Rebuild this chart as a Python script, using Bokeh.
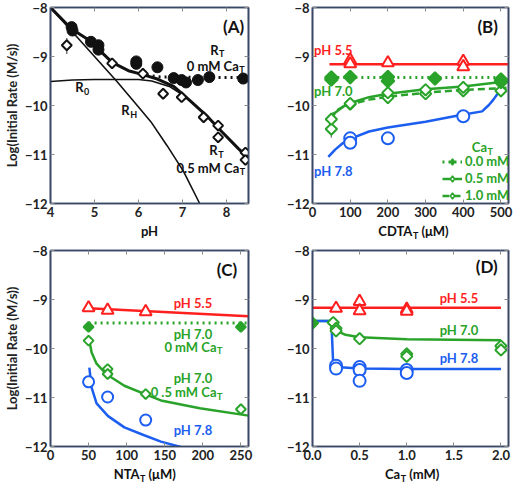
import numpy as np
from bokeh.plotting import figure
from bokeh.layouts import column, row
from bokeh.models import (Range1d, Label, Legend, LegendItem, LinearAxis, FixedTicker,
                          NumeralTickFormatter, CustomJSTickFormatter)
from bokeh.embed import file_html
from bokeh.resources import INLINE

FONT = "Lato"
RED, GREEN, BLUE, INK = "#ff1f1f", "#29a329", "#1c5ef0", "#111111"
AX = "#3a4766"
TICK = "#8a8a8a"

# ---------------- data ----------------
y_ticks = [-12, -11, -10, -9, -8]

# Panel A
a_ticks = [4, 5, 6, 7, 8]
a_ca0_ph = [4.48, 4.50, 4.92, 5.09, 5.09, 5.95, 5.95, 6.43, 6.80, 6.98, 7.08, 7.35, 7.61, 8.38]
a_ca0_log = [-8.40, -8.47, -8.70, -8.77, -8.86, -9.10, -9.15, -9.22, -9.44, -9.48, -9.53, -9.48, -9.42, -9.45]
a_ca05_ph = [4.37, 5.40, 6.10, 6.56, 6.98, 7.48, 7.81, 7.81, 8.43, 8.43]
a_ca05_log = [-8.77, -9.14, -9.35, -9.76, -9.83, -10.24, -10.41, -10.65, -10.96, -11.11]
a_fit05_ph = [4.0, 4.48, 4.88, 5.40, 5.77, 6.06, 6.43, 6.80, 7.17, 7.54, 7.90, 8.27, 8.55]
a_fit05_log = [-8.0, -8.44, -8.67, -9.12, -9.29, -9.36, -9.46, -9.61, -9.90, -10.20, -10.54, -10.88, -11.12]
a_fit0_ph = [6.05, 6.5, 8.5]
a_fit0_log = [-9.37, -9.42, -9.43]
a_r0_ph = [4.0, 4.5, 5.0, 5.5, 6.0, 6.3, 6.7, 7.0]
a_r0_log = [-9.51, -9.48, -9.47, -9.47, -9.47, -9.50, -9.61, -9.78]
a_rh_ph = [4.0, 4.5, 5.0, 5.5, 6.0, 6.28, 6.65, 7.02, 7.39]
a_rh_log = [-8.0, -8.5, -9.0, -9.5, -10.03, -10.33, -10.82, -11.34, -12.0]
a_err_ph = [4.37]
a_err_lo = [-8.95]
a_err_hi = [-8.62]

# Panel B
b_ticks = [0, 100, 200, 300, 400, 500]
b_ph55_x = [100, 100, 200, 400, 400]
b_ph55_y = [-9.07, -9.15, -9.13, -9.10, -9.21]
b_ph55_fit_x = [45, 520]
b_ph55_fit_y = [-9.16, -9.16]
b_ca0_x = [50, 50, 100, 200, 200, 325, 500, 500]
b_ca0_y = [-9.43, -9.47, -9.42, -9.42, -9.50, -9.45, -9.47, -9.52]
b_ca0_fit_x = [50, 500]
b_ca0_fit_y = [-9.43, -9.43]
b_ca05_x = [50, 100, 200, 300, 400, 500]
b_ca05_y = [-10.28, -9.96, -9.74, -9.68, -9.63, -9.50]
b_ca05_fit_x = [45, 60, 80, 100, 150, 200, 300, 400, 500, 515]
b_ca05_fit_y = [-10.32, -10.15, -10.03, -9.95, -9.83, -9.76, -9.67, -9.61, -9.52, -9.49]
b_ca10_x = [50, 100, 200, 300, 400, 500]
b_ca10_y = [-10.48, -9.97, -9.84, -9.76, -9.70, -9.70]
b_ca10_fit_x = [45, 60, 80, 100, 150, 200, 300, 400, 500, 515]
b_ca10_fit_y = [-10.25, -10.12, -10.03, -9.98, -9.88, -9.82, -9.74, -9.68, -9.65, -9.64]
b_ph78_x = [100, 100, 200, 400]
b_ph78_y = [-10.67, -10.76, -10.67, -10.22]
b_ph78_fit_x = [42, 60, 80, 100, 150, 200, 300, 390, 450, 468, 481, 491]
b_ph78_fit_y = [-11.05, -10.90, -10.77, -10.68, -10.53, -10.45, -10.33, -10.20, -10.12, -9.99, -9.87, -9.76]
b_err_x = [50]
b_err_lo = [-10.66]
b_err_hi = [-10.35]
b_legend_labels = ["0.0 mM", "0.5 mM", "1.0 mM"]

# Panel C
c_ticks = [0, 50, 100, 150, 200, 250]
c_ph55_x = [50, 75, 125]
c_ph55_y = [-9.17, -9.22, -9.25]
c_ph55_fit_x = [50, 260]
c_ph55_fit_y = [-9.18, -9.34]
c_ca0_x = [50, 250]
c_ca0_y = [-9.56, -9.56]
c_ca0_fit_x = [50, 260]
c_ca0_fit_y = [-9.48, -9.48]
c_ca05_x = [50, 75, 75, 125, 250]
c_ca05_y = [-9.84, -10.42, -10.52, -10.93, -11.24]
c_ca05_fit_x = [51, 54, 60.5, 73, 97, 124, 145, 196, 260]
c_ca05_fit_y = [-9.84, -10.08, -10.31, -10.52, -10.76, -10.93, -11.06, -11.22, -11.37]
c_ph78_x = [50, 75, 125]
c_ph78_y = [-10.68, -10.99, -11.46]
c_ph78_fit_x = [51, 54, 60.5, 75.6, 97, 123, 145, 171]
c_ph78_fit_y = [-10.39, -10.80, -11.12, -11.38, -11.61, -11.77, -11.90, -12.01]

# Panel D
d_ticks = [0.0, 0.5, 1.0, 1.5, 2.0]
d_ph55_x = [0.25, 0.5, 0.5, 1.0, 1.0]
d_ph55_y = [-9.18, -9.04, -9.23, -9.20, -9.24]
d_ph55_fit_x = [0.0, 2.0]
d_ph55_fit_y = [-9.17, -9.17]
d_ca0_x = [0.0]
d_ca0_y = [-9.48]
d_ph70_x = [0.22, 0.25, 0.25, 0.5, 1.0, 1.0, 2.0, 2.0]
d_ph70_y = [-9.47, -9.59, -9.64, -9.80, -10.11, -10.16, -9.95, -10.03]
d_ph70_fit_x = [0.0, 0.2, 0.22, 0.26, 0.35, 0.5, 1.0, 2.0]
d_ph70_fit_y = [-9.44, -9.44, -9.50, -9.64, -9.72, -9.77, -9.81, -9.83]
d_ph78_x = [0.25, 0.25, 0.5, 0.5, 0.5, 1.0, 1.0]
d_ph78_y = [-10.35, -10.41, -10.38, -10.44, -10.66, -10.44, -10.50]
d_ph78_fit_x = [0.0, 0.2, 0.22, 0.25, 0.5, 1.0, 2.0]
d_ph78_fit_y = [-9.44, -9.44, -10.33, -10.38, -10.41, -10.42, -10.42]

# ---------------- helpers ----------------
FH = 196
CAP_H = 22


def style_axis(ax, labels=True):
    ax.major_tick_in = 4
    ax.major_tick_out = 0
    ax.minor_tick_in = 0
    ax.minor_tick_out = 0
    ax.axis_line_color = AX
    ax.axis_line_width = 1.6
    ax.major_tick_line_color = TICK
    ax.major_tick_line_width = 1
    ax.major_label_text_font = FONT
    ax.major_label_text_font_style = "bold"
    ax.major_label_text_font_size = "13px"
    ax.major_label_text_color = "#222222"
    ax.major_label_standoff = 3
    if not labels:
        ax.formatter = CustomJSTickFormatter(code="return ''")
        ax.major_label_standoff = 0


def make_fig(xr, xticks, left, fw, right, ylabel=None, xfmt=None):
    p = figure(frame_width=fw, frame_height=FH, x_range=xr, y_range=Range1d(-12, -8),
               output_backend="svg", toolbar_location=None,
               min_border_left=left, min_border_right=right, min_border_top=7, min_border_bottom=18)
    p.grid.visible = False
    p.outline_line_color = AX
    p.outline_line_width = 1.6
    p.xaxis.ticker = FixedTicker(ticks=xticks)
    p.yaxis.ticker = FixedTicker(ticks=y_ticks)
    if xfmt:
        p.xaxis.formatter = NumeralTickFormatter(format=xfmt)
    style_axis(p.xaxis[0])
    style_axis(p.yaxis[0])
    if ylabel:
        p.yaxis.axis_label = ylabel
        p.yaxis.axis_label_text_font = FONT
        p.yaxis.axis_label_text_font_style = "bold"
        p.yaxis.axis_label_text_font_size = "13px"
        p.yaxis.axis_label_text_color = "#222222"
        p.yaxis.axis_label_standoff = 2
    top = LinearAxis(ticker=FixedTicker(ticks=xticks))
    style_axis(top, labels=False)
    p.add_layout(top, "above")
    rgt = LinearAxis(ticker=FixedTicker(ticks=y_ticks))
    style_axis(rgt, labels=False)
    p.add_layout(rgt, "right")
    return p


def make_caption(xr, left, fw, right):
    c = figure(frame_width=fw, frame_height=CAP_H, x_range=xr, y_range=Range1d(0, 1),
               output_backend="svg", toolbar_location=None, x_axis_location=None,
               y_axis_location=None, min_border_left=left, min_border_right=right,
               min_border_top=0, min_border_bottom=0)
    c.grid.visible = False
    c.outline_line_color = None
    return c


def lab(p, x, y, text, color=INK, size=13, align="center", baseline="middle", xo=0, yo=0):
    p.add_layout(Label(x=x, y=y, text=text, text_color=color, text_font=FONT,
                       text_font_style="bold", text_font_size=f"{size}px",
                       text_align=align, text_baseline=baseline, x_offset=xo, y_offset=yo))


def sublab(p, x, y, base, sub, after="", color=INK, size=13, yo=0, subw=9):
    lab(p, x, y, base, color, size, align="right", yo=yo)
    lab(p, x, y, sub, color, size - 4, align="left", yo=yo - 4, xo=0.5)
    if after:
        lab(p, x, y, after, color, size, align="left", yo=yo, xo=subw)


def diamonds(p, x, y, color, fill="white", size=8, lw=2):
    return p.scatter(x, y, marker="square", angle=np.pi / 4, size=size, line_color=color,
                     fill_color=fill, line_width=lw)


def triangles(p, x, y):
    return p.scatter(x, y, marker="triangle", size=12, line_color=RED, fill_color="white", line_width=2)


def circles(p, x, y, size=12):
    return p.scatter(x, y, marker="circle", size=size, line_color=BLUE, fill_color="white", line_width=2)


YLAB = "Log(Initial Rate (M/s))"
CAP_Y = 0.55

# ---------------- Panel A ----------------
xrA = Range1d(4, 8.5)
pA = make_fig(xrA, a_ticks, 40, 198, 8, ylabel=YLAB)
pA.line(a_rh_ph, a_rh_log, line_color=INK, line_width=1.6)
pA.line(a_r0_ph, a_r0_log, line_color=INK, line_width=1.6)
pA.line(a_fit05_ph, a_fit05_log, line_color=INK, line_width=3)
pA.line(a_fit0_ph, a_fit0_log, line_color=INK, line_width=3, line_dash="2 4")
pA.segment(a_err_ph, a_err_lo, a_err_ph, a_err_hi, line_color="#555555", line_width=1.2)
pA.scatter(a_ca0_ph, a_ca0_log, marker="circle", size=11, fill_color=INK, line_color=INK)
diamonds(pA, a_ca05_ph, a_ca05_log, INK, size=7)
lab(pA, 8.40, -8.38, "(A)", size=17, align="right")
sublab(pA, 7.82, -8.86, "R", "T")
sublab(pA, 8.28, -9.19, "0 mM Ca", "T")
sublab(pA, 4.75, -9.63, "R", "0")
sublab(pA, 5.80, -10.10, "R", "H")
sublab(pA, 7.80, -10.91, "R", "T")
sublab(pA, 8.29, -11.27, "0.5 mM Ca", "T")
capA = make_caption(xrA, 40, 198, 8)
lab(capA, 6.25, CAP_Y, "pH")

# ---------------- Panel B ----------------
xrB = Range1d(0, 520)
pB = make_fig(xrB, b_ticks, 56, 196, 7)
pB.line(b_ph55_fit_x, b_ph55_fit_y, line_color=RED, line_width=2.5)
r_b0l = pB.line(b_ca0_fit_x, b_ca0_fit_y, line_color=GREEN, line_width=3, line_dash="2 4")
r_b05l = pB.line(b_ca05_fit_x, b_ca05_fit_y, line_color=GREEN, line_width=2.5)
r_b10l = pB.line(b_ca10_fit_x, b_ca10_fit_y, line_color=GREEN, line_width=2.5, line_dash="7 4")
pB.line(b_ph78_fit_x, b_ph78_fit_y, line_color=BLUE, line_width=2.5)
pB.segment(b_err_x, b_err_lo, b_err_x, b_err_hi, line_color="#777777", line_width=1.2)
triangles(pB, b_ph55_x, b_ph55_y)
circles(pB, b_ph78_x, b_ph78_y)
diamonds(pB, b_ca10_x, b_ca10_y, GREEN, size=8)
diamonds(pB, b_ca05_x, b_ca05_y, GREEN, size=8)
diamonds(pB, b_ca0_x, b_ca0_y, GREEN, fill=GREEN, size=9)
# hidden twins of the series, used only for the legend's diamond symbols
g0 = pB.scatter(b_ca0_x, b_ca0_y, marker="diamond", size=11, fill_color=GREEN,
                line_color=GREEN, line_width=1.5, visible=False)
g05 = pB.scatter(b_ca05_x, b_ca05_y, marker="diamond", size=10, fill_color="white",
                 line_color=GREEN, line_width=1.5, visible=False)
g10 = pB.scatter(b_ca10_x, b_ca10_y, marker="diamond", size=10, fill_color="white",
                 line_color=GREEN, line_width=1.5, visible=False)
lab(pB, 492, -8.38, "(B)", size=17, align="right")
lab(pB, 4, -8.86, "pH 5.5", RED, align="left")
lab(pB, 4, -9.71, "pH 7.0", GREEN, align="left")
lab(pB, 4, -11.34, "pH 7.8", BLUE, align="left")
sublab(pB, 463, -10.85, "Ca", "T", color=GREEN)
leg = Legend(items=[LegendItem(label=b_legend_labels[0], renderers=[r_b0l, g0]),
                    LegendItem(label=b_legend_labels[1], renderers=[r_b05l, g05]),
                    LegendItem(label=b_legend_labels[2], renderers=[r_b10l, g10])],
             location=(130, 0), orientation="vertical", background_fill_alpha=0,
             border_line_alpha=0, padding=0, margin=0, spacing=1, glyph_width=20,
             glyph_height=15, label_height=15, label_standoff=3,
             label_text_font=FONT, label_text_font_style="bold", label_text_font_size="13px",
             label_text_color=GREEN)
pB.add_layout(leg)
capB = make_caption(xrB, 56, 196, 7)
sublab(capB, 265, CAP_Y, "CDTA", "T", after="(μM)")

# ---------------- Panel C ----------------
xrC = Range1d(0, 260)
pC = make_fig(xrC, c_ticks, 40, 198, 8, ylabel=YLAB)
pC.line(c_ph55_fit_x, c_ph55_fit_y, line_color=RED, line_width=2.5)
pC.line(c_ca0_fit_x, c_ca0_fit_y, line_color=GREEN, line_width=3, line_dash="2 4")
pC.line(c_ca05_fit_x, c_ca05_fit_y, line_color=GREEN, line_width=2.5)
pC.line(c_ph78_fit_x, c_ph78_fit_y, line_color=BLUE, line_width=2.5)
triangles(pC, c_ph55_x, c_ph55_y)
circles(pC, c_ph78_x, c_ph78_y, size=11)
diamonds(pC, c_ca05_x, c_ca05_y, GREEN, size=7)
diamonds(pC, c_ca0_x, c_ca0_y, GREEN, fill=GREEN, size=7)
lab(pC, 245, -8.39, "(C)", size=17, align="right")
lab(pC, 187, -9.07, "pH 5.5", RED)
lab(pC, 187, -9.70, "pH 7.0", GREEN)
sublab(pC, 218, -9.96, "0 mM Ca", "T", color=GREEN)
lab(pC, 187, -10.60, "pH 7.0", GREEN)
sublab(pC, 218, -10.89, "0 .5 mM Ca", "T", color=GREEN)
lab(pC, 187, -11.67, "pH 7.8", BLUE)
capC = make_caption(xrC, 40, 198, 8)
sublab(capC, 117, CAP_Y, "NTA", "T", after="(μM)")

# ---------------- Panel D ----------------
xrD = Range1d(0, 2.08)
pD = make_fig(xrD, d_ticks, 56, 196, 7, xfmt="0.0")
pD.line(d_ph55_fit_x, d_ph55_fit_y, line_color=RED, line_width=2.5)
pD.line(d_ph70_fit_x, d_ph70_fit_y, line_color=GREEN, line_width=2.5)
pD.line(d_ph78_fit_x, d_ph78_fit_y, line_color=BLUE, line_width=2.5)
triangles(pD, d_ph55_x, d_ph55_y)
circles(pD, d_ph78_x, d_ph78_y)
diamonds(pD, d_ph70_x, d_ph70_y, GREEN, size=8)
diamonds(pD, d_ca0_x, d_ca0_y, GREEN, fill=GREEN, size=8)
lab(pD, 1.966, -8.32, "(D)", size=17, align="right")
lab(pD, 1.554, -8.96, "pH 5.5", RED)
lab(pD, 1.554, -9.62, "pH 7.0", GREEN)
lab(pD, 1.554, -10.20, "pH 7.8", BLUE)
capD = make_caption(xrD, 56, 196, 7)
sublab(capD, 0.93, CAP_Y, "Ca", "T", after="(mM)")

layout = column(row(column(pA, capA), column(pB, capB)),
                row(column(pC, capC), column(pD, capD)))
open("out.html", "w").write(file_html(layout, INLINE))
